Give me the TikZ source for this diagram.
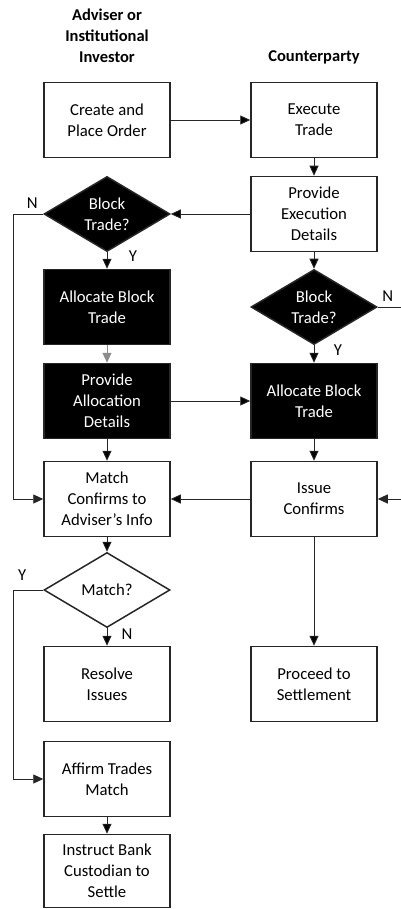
\documentclass[tikz,border=0pt]{standalone}
\usepackage{fontspec}
\setmainfont{Carlito}
\usetikzlibrary{positioning, shapes.geometric, arrows.meta}

\begin{document}
\begin{tikzpicture}[
    x=1pt, y=-1pt,
    node distance=207pt,
    on grid,
    font=\fontsize{16.7}{21}\selectfont,
    every node/.append style={align=center},
    box/.style={draw=black!85, line width=1.5pt, minimum width=126pt, minimum height=75pt, inner sep=2pt},
    darkbox/.style={box, fill=black, text=white},
    decision/.style={diamond, draw=black!85, line width=1.5pt, aspect=1.68, minimum width=126pt, minimum height=75pt, inner sep=0pt},
    head/.style={font=\fontsize{16.5}{21}\selectfont\bfseries},
    yn/.style={anchor=center},
    flow/.style={line width=0.9pt, draw=black!85, -{Triangle[length=10pt,width=9pt]}}
]

   \useasboundingbox (0,0) rectangle (401,909);

   % Column headings
   \node[head] (advhead) at (107,36) {Adviser or\\Institutional\\Investor};
   \node[head] (cpthead) at (314,57) {Counterparty};

   % Boxes and decisions
   \node[box] (create) at (107,120) {Create and\\Place Order};
   \node[box] (exec) [right=of create] {Execute\\Trade};
   \node[box] (pexec) [below=94pt of exec] {Provide\\Execution\\Details};
   \node[decision, fill=black, text=white] (blockA) [left=of pexec] {Block\\Trade?};
   \node[darkbox] (allocA) [below=93pt of blockA] {Allocate Block\\Trade};
   \node[decision, fill=black, text=white] (blockB) [below=93pt of pexec] {Block\\Trade?};
   \node[darkbox] (pallocA) [below=94pt of allocA] {Provide\\Allocation\\Details};
   \node[darkbox] (allocB) [right=of pallocA] {Allocate Block\\Trade};
   \node[box] (match) [below=98pt of pallocA] {Match\\Confirms to\\Adviser’s Info};
   \node[box] (issue) [right=of match] {Issue\\Confirms};
   \node[decision, fill=white] (matchq) [below=91pt of match] {Match?};
   \node[box] (resolve) [below=94pt of matchq] {Resolve\\Issues};
   \node[box] (proceed) [right=of resolve] {Proceed to\\Settlement};
   \node[box] (affirm) [below=95pt of resolve] {Affirm Trades\\Match};
   \node[box, minimum height=73pt] (instruct) [below=92pt of affirm] {Instruct Bank\\Custodian to\\Settle};

   % Y / N labels
   \node (nA) [above left=11pt and 11pt of blockA.west, yn] {N};
   \node (yA) [below right=4pt and 26pt of blockA.south, yn] {Y};
   \node (nB) [above right=11pt and 10pt of blockB.east, yn] {N};
   \node (yB) [below right=5pt and 24pt of blockB.south, yn] {Y};
   \node (yM) [above left=15pt and 21pt of matchq.west, yn] {Y};
   \node (nM) [below right=6pt and 20pt of matchq.south, yn] {N};

   % free ends at the right margin
   \coordinate (rim) at (401,0);

   % Connectors
   \path[flow]
   (create) edge (exec)
   (exec) edge (pexec)
   (pexec) edge (blockA)
   (blockA) edge (allocA)
   (pexec) edge (blockB)
   (blockB) edge (allocB)
   (pallocA) edge (allocB)
   (pallocA) edge (match)
   (allocB) edge (issue)
   (issue) edge (match)
   (issue) edge (proceed)
   (match) edge (matchq)
   (matchq) edge (resolve)
   (affirm) edge (instruct);

   \draw[flow, draw=black!45] (allocA) -- (pallocA);
   \draw[flow] (blockA.west) -- ++(-30,0) |- (match.west);
   \draw[flow] (matchq.west) -- ++(-30,0) |- (affirm.west);
   \draw[line width=0.9pt, black!85] (blockB.east) -- (blockB.east -| rim);
   \draw[flow] (issue.east -| rim) -- (issue.east);
\end{tikzpicture}
\end{document}
